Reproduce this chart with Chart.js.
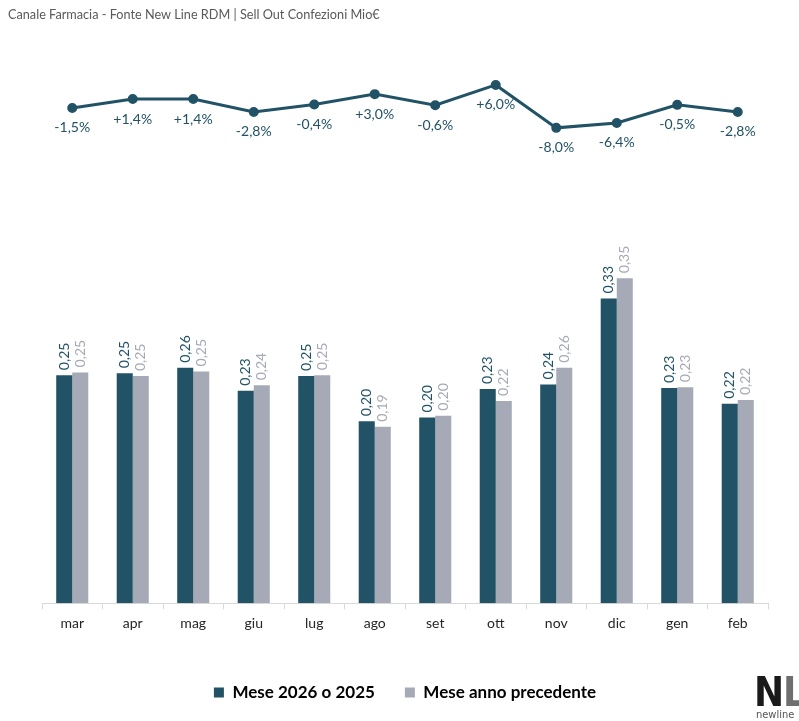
<!DOCTYPE html>
<html>
<head>
<meta charset="utf-8">
<script src="https://cdn.jsdelivr.net/npm/chart.js@4.4.1/dist/chart.umd.min.js"></script>
<style>
  html, body { margin: 0; padding: 0; background: #ffffff; }
  #wrap { width: 799px; height: 721px; position: relative; }
</style>
</head>
<body>
<div id="wrap"><canvas id="sellOutChart" width="799" height="721"></canvas></div>
<script>
const months = ["mar", "apr", "mag", "giu", "lug", "ago", "set", "ott", "nov", "dic", "gen", "feb"];
const currentYear = [0.247, 0.249, 0.255, 0.230, 0.246, 0.197, 0.201, 0.232, 0.237, 0.330, 0.233, 0.216];
const previousYear = [0.250, 0.246, 0.251, 0.236, 0.247, 0.191, 0.203, 0.219, 0.255, 0.352, 0.234, 0.220];
const changePct = [-1.5, 1.4, 1.4, -2.8, -0.4, 3.0, -0.6, 6.0, -8.0, -6.4, -0.5, -2.8];

const darkColor = "#215266";
const grayColor = "#a5aab6";
const fontFamily = "Lato, 'Open Sans', sans-serif";

const fmtValue = v => v.toFixed(2).replace(".", ",");
const fmtPct = v => (v > 0 ? "+" : "") + v.toFixed(1).replace(".", ",") + "%";

const labelsPlugin = {
  id: "labelsPlugin",
  afterDatasetsDraw(chart) {
    const ctx = chart.ctx;
    ctx.save();
    // bar values, rotated
    [0, 1].forEach(di => {
      const meta = chart.getDatasetMeta(di);
      const color = di === 0 ? darkColor : grayColor;
      meta.data.forEach((bar, i) => {
        ctx.save();
        ctx.translate(bar.x, bar.y - 5);
        ctx.rotate(-Math.PI / 2);
        ctx.fillStyle = color;
        ctx.font = "14px " + fontFamily;
        ctx.textAlign = "left";
        ctx.textBaseline = "middle";
        ctx.fillText(fmtValue(chart.data.datasets[di].data[i]), 0, 0);
        ctx.restore();
      });
    });
    // line labels, below points
    const lineMeta = chart.getDatasetMeta(2);
    ctx.fillStyle = darkColor;
    ctx.font = "14px " + fontFamily;
    ctx.textAlign = "center";
    ctx.textBaseline = "middle";
    lineMeta.data.forEach((pt, i) => {
      ctx.fillText(fmtPct(changePct[i]), pt.x, pt.y + 20);
    });
    ctx.restore();
  },
  afterDraw(chart) {
    const ctx = chart.ctx;
    ctx.save();
    // header
    ctx.fillStyle = "#595959";
    ctx.font = "12.7px " + fontFamily;
    ctx.textAlign = "left";
    ctx.textBaseline = "middle";
    ctx.fillText("Canale Farmacia - Fonte New Line RDM | Sell Out Confezioni Mio€", 8, 15);
    // logo
    ctx.textBaseline = "alphabetic";
    ctx.font = "bold 40px 'Liberation Sans Narrow', 'DejaVu Sans Condensed', sans-serif";
    ctx.fillStyle = "#1a1a1a";
    ctx.fillText("N", 754, 706);
    const nW = ctx.measureText("N").width;
    ctx.fillStyle = "#6f6f6f";
    ctx.fillText("L", 754 + nW - 1, 706);
    const lW = ctx.measureText("L").width;
    ctx.fillStyle = "#a9c23a";
    ctx.fillRect(754 + nW + lW - 5, 699, 6, 6);
    ctx.fillStyle = "#555555";
    ctx.font = "11px 'DejaVu Sans Condensed', sans-serif";
    ctx.fillText("newline", 756, 718);
    ctx.restore();
  }
};

const chartCanvas = document.getElementById("sellOutChart");

new Chart(chartCanvas.getContext("2d"), {
  type: "bar",
  data: {
    labels: months,
    datasets: [
      {
        label: "Mese 2026 o 2025",
        data: currentYear,
        backgroundColor: darkColor,
        yAxisID: "y",
        barPercentage: 1,
        categoryPercentage: 0.53
      },
      {
        label: "Mese anno precedente",
        data: previousYear,
        backgroundColor: grayColor,
        yAxisID: "y",
        barPercentage: 1,
        categoryPercentage: 0.53
      },
      {
        type: "line",
        label: "Var %",
        data: changePct,
        yAxisID: "y2",
        borderColor: darkColor,
        backgroundColor: darkColor,
        borderWidth: 3,
        pointRadius: 3.5,
        pointHoverRadius: 3.5,
        tension: 0
      }
    ]
  },
  options: {
    responsive: false,
    animation: false,
    layout: {
      padding: { top: 40, left: 42, right: 31, bottom: 10 }
    },
    plugins: {
      legend: {
        position: "bottom",
        labels: {
          filter: item => item.datasetIndex < 2,
          boxWidth: 10,
          boxHeight: 10,
          padding: 30,
          color: "#000000",
          font: { family: fontFamily, size: 17, weight: "bold" }
        }
      },
      tooltip: { enabled: false },
      title: { display: false }
    },
    scales: {
      x: {
        afterFit: scale => { scale.height += 16; },
        grid: {
          offset: true,
          drawOnChartArea: false,
          drawTicks: true,
          tickLength: 6,
          color: "#d9d9d9"
        },
        border: { color: "#d9d9d9" },
        ticks: {
          color: "#262626",
          padding: 6,
          font: { family: fontFamily, size: 14 }
        }
      },
      y: {
        display: false,
        min: 0,
        max: 0.61
      },
      y2: {
        display: false,
        min: -163,
        max: 20.65
      }
    }
  },
  plugins: [labelsPlugin]
});
</script>
</body>
</html>
